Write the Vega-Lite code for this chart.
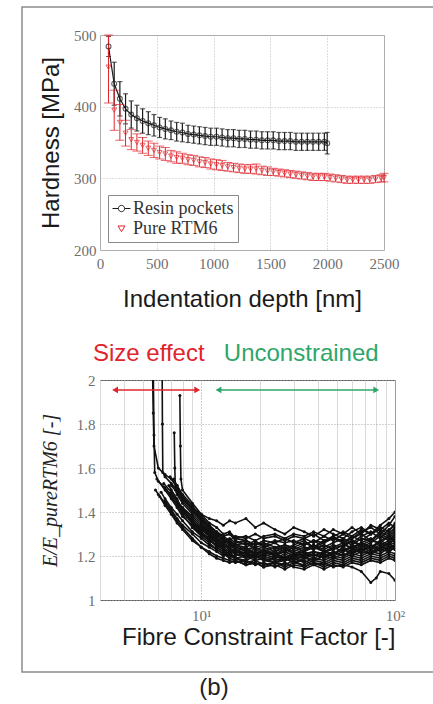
{
"$schema":"https://vega.github.io/schema/vega-lite/v6.json",
"padding":{"left":20,"top":5,"right":0,"bottom":5},
"background":"white",
"title":{"text":"(b)","orient":"bottom","anchor":"middle","font":"Liberation Sans","fontSize":24,"fontWeight":"normal","color":"#222","offset":3,"dx":-14},
"bounds":"flush",
"spacing":130,
"resolve":{"scale":{"color":"independent","shape":"independent"},"legend":{"color":"independent","shape":"independent"}},
"datasets":{
"hard":[
{"series":"Resin pockets","depth":75,"h":484,"lo":470,"hi":498},
{"series":"Resin pockets","depth":125,"h":432,"lo":402,"hi":462},
{"series":"Resin pockets","depth":175,"h":411,"lo":387,"hi":435},
{"series":"Resin pockets","depth":225,"h":397,"lo":376,"hi":418},
{"series":"Resin pockets","depth":275,"h":389,"lo":370,"hi":408},
{"series":"Resin pockets","depth":325,"h":384,"lo":366,"hi":402},
{"series":"Resin pockets","depth":375,"h":380,"lo":363,"hi":397},
{"series":"Resin pockets","depth":425,"h":377,"lo":361,"hi":393},
{"series":"Resin pockets","depth":475,"h":374,"lo":359,"hi":389},
{"series":"Resin pockets","depth":525,"h":371,"lo":357,"hi":385},
{"series":"Resin pockets","depth":575,"h":369,"lo":355,"hi":383},
{"series":"Resin pockets","depth":625,"h":367,"lo":354,"hi":380},
{"series":"Resin pockets","depth":675,"h":365,"lo":352,"hi":378},
{"series":"Resin pockets","depth":725,"h":364,"lo":351,"hi":377},
{"series":"Resin pockets","depth":775,"h":362,"lo":350,"hi":374},
{"series":"Resin pockets","depth":825,"h":361,"lo":349,"hi":373},
{"series":"Resin pockets","depth":875,"h":360,"lo":348,"hi":372},
{"series":"Resin pockets","depth":925,"h":359,"lo":347,"hi":371},
{"series":"Resin pockets","depth":975,"h":358,"lo":346,"hi":370},
{"series":"Resin pockets","depth":1025,"h":358,"lo":346,"hi":370},
{"series":"Resin pockets","depth":1075,"h":357,"lo":345,"hi":369},
{"series":"Resin pockets","depth":1125,"h":356,"lo":344,"hi":368},
{"series":"Resin pockets","depth":1175,"h":356,"lo":344,"hi":368},
{"series":"Resin pockets","depth":1225,"h":355,"lo":343,"hi":367},
{"series":"Resin pockets","depth":1275,"h":355,"lo":343,"hi":367},
{"series":"Resin pockets","depth":1325,"h":354,"lo":342,"hi":366},
{"series":"Resin pockets","depth":1375,"h":354,"lo":342,"hi":366},
{"series":"Resin pockets","depth":1425,"h":353,"lo":341,"hi":365},
{"series":"Resin pockets","depth":1475,"h":353,"lo":341,"hi":365},
{"series":"Resin pockets","depth":1525,"h":353,"lo":341,"hi":365},
{"series":"Resin pockets","depth":1575,"h":352,"lo":340,"hi":364},
{"series":"Resin pockets","depth":1625,"h":352,"lo":340,"hi":364},
{"series":"Resin pockets","depth":1675,"h":352,"lo":340,"hi":364},
{"series":"Resin pockets","depth":1725,"h":351,"lo":339,"hi":363},
{"series":"Resin pockets","depth":1775,"h":351,"lo":339,"hi":363},
{"series":"Resin pockets","depth":1825,"h":351,"lo":339,"hi":363},
{"series":"Resin pockets","depth":1875,"h":351,"lo":339,"hi":363},
{"series":"Resin pockets","depth":1925,"h":351,"lo":339,"hi":363},
{"series":"Resin pockets","depth":1975,"h":351,"lo":339,"hi":363},
{"series":"Resin pockets","depth":2000,"h":349,"lo":334,"hi":364},
{"series":"Pure RTM6","depth":75,"h":455,"lo":405,"hi":500},
{"series":"Pure RTM6","depth":125,"h":395,"lo":367,"hi":423},
{"series":"Pure RTM6","depth":175,"h":378,"lo":353,"hi":403},
{"series":"Pure RTM6","depth":225,"h":363,"lo":345,"hi":381},
{"series":"Pure RTM6","depth":275,"h":354,"lo":340,"hi":368},
{"series":"Pure RTM6","depth":325,"h":350,"lo":338,"hi":362},
{"series":"Pure RTM6","depth":375,"h":346,"lo":335,"hi":357},
{"series":"Pure RTM6","depth":425,"h":342,"lo":332,"hi":352},
{"series":"Pure RTM6","depth":475,"h":339,"lo":329,"hi":349},
{"series":"Pure RTM6","depth":525,"h":336,"lo":327,"hi":345},
{"series":"Pure RTM6","depth":575,"h":334,"lo":325,"hi":343},
{"series":"Pure RTM6","depth":625,"h":331,"lo":323,"hi":339},
{"series":"Pure RTM6","depth":675,"h":329,"lo":321,"hi":337},
{"series":"Pure RTM6","depth":725,"h":328,"lo":321,"hi":335},
{"series":"Pure RTM6","depth":775,"h":326,"lo":319,"hi":333},
{"series":"Pure RTM6","depth":825,"h":325,"lo":318,"hi":332},
{"series":"Pure RTM6","depth":875,"h":323,"lo":316,"hi":330},
{"series":"Pure RTM6","depth":925,"h":322,"lo":315,"hi":329},
{"series":"Pure RTM6","depth":975,"h":320,"lo":313,"hi":327},
{"series":"Pure RTM6","depth":1025,"h":319,"lo":312,"hi":326},
{"series":"Pure RTM6","depth":1075,"h":318,"lo":311,"hi":325},
{"series":"Pure RTM6","depth":1125,"h":316,"lo":310,"hi":322},
{"series":"Pure RTM6","depth":1175,"h":315,"lo":309,"hi":321},
{"series":"Pure RTM6","depth":1225,"h":314,"lo":308,"hi":320},
{"series":"Pure RTM6","depth":1275,"h":313,"lo":307,"hi":319},
{"series":"Pure RTM6","depth":1325,"h":313,"lo":307,"hi":319},
{"series":"Pure RTM6","depth":1375,"h":313,"lo":306,"hi":320},
{"series":"Pure RTM6","depth":1425,"h":311,"lo":305,"hi":317},
{"series":"Pure RTM6","depth":1475,"h":310,"lo":304,"hi":316},
{"series":"Pure RTM6","depth":1525,"h":309,"lo":304,"hi":314},
{"series":"Pure RTM6","depth":1575,"h":308,"lo":303,"hi":313},
{"series":"Pure RTM6","depth":1625,"h":307,"lo":302,"hi":312},
{"series":"Pure RTM6","depth":1675,"h":306,"lo":301,"hi":311},
{"series":"Pure RTM6","depth":1725,"h":305,"lo":300,"hi":310},
{"series":"Pure RTM6","depth":1775,"h":304,"lo":299,"hi":309},
{"series":"Pure RTM6","depth":1825,"h":303,"lo":298,"hi":308},
{"series":"Pure RTM6","depth":1875,"h":302,"lo":297,"hi":307},
{"series":"Pure RTM6","depth":1925,"h":302,"lo":297,"hi":307},
{"series":"Pure RTM6","depth":1975,"h":302,"lo":297,"hi":307},
{"series":"Pure RTM6","depth":2025,"h":301,"lo":296,"hi":306},
{"series":"Pure RTM6","depth":2075,"h":300,"lo":295,"hi":305},
{"series":"Pure RTM6","depth":2125,"h":299,"lo":294,"hi":304},
{"series":"Pure RTM6","depth":2175,"h":298,"lo":293,"hi":303},
{"series":"Pure RTM6","depth":2225,"h":298,"lo":293,"hi":303},
{"series":"Pure RTM6","depth":2275,"h":298,"lo":293,"hi":303},
{"series":"Pure RTM6","depth":2325,"h":298,"lo":293,"hi":303},
{"series":"Pure RTM6","depth":2375,"h":298,"lo":293,"hi":303},
{"series":"Pure RTM6","depth":2425,"h":299,"lo":294,"hi":304},
{"series":"Pure RTM6","depth":2475,"h":300,"lo":295,"hi":305},
{"series":"Pure RTM6","depth":2500,"h":301,"lo":295,"hi":307}
],
"fcf":[
{"s":1,"x":5.6,"y":2.05},{"s":1,"x":5.65,"y":1.85},{"s":1,"x":5.7,"y":1.7},{"s":1,"x":6,"y":1.6},{"s":1,"x":6.5,"y":1.57},{"s":1,"x":7,"y":1.55},{"s":1,"x":7.5,"y":1.52},{"s":1,"x":8,"y":1.46},{"s":1,"x":9,"y":1.41},{"s":1,"x":10,"y":1.37},{"s":1,"x":11,"y":1.33},{"s":1,"x":12,"y":1.31},{"s":1,"x":13,"y":1.29},{"s":1,"x":14,"y":1.3},{"s":1,"x":15,"y":1.27},{"s":1,"x":17,"y":1.25},{"s":1,"x":19,"y":1.27},{"s":1,"x":21,"y":1.24},{"s":1,"x":24,"y":1.26},{"s":1,"x":27,"y":1.23},{"s":1,"x":30,"y":1.25},{"s":1,"x":34,"y":1.27},{"s":1,"x":38,"y":1.24},{"s":1,"x":43,"y":1.26},{"s":1,"x":48,"y":1.29},{"s":1,"x":54,"y":1.26},{"s":1,"x":60,"y":1.28},{"s":1,"x":67,"y":1.3},{"s":1,"x":75,"y":1.27},{"s":1,"x":84,"y":1.31},{"s":1,"x":93,"y":1.29},{"s":1,"x":100,"y":1.32},
{"s":2,"x":5.8,"y":1.5},{"s":2,"x":6,"y":1.48},{"s":2,"x":6.5,"y":1.44},{"s":2,"x":7,"y":1.4},{"s":2,"x":7.5,"y":1.36},{"s":2,"x":8,"y":1.33},{"s":2,"x":9,"y":1.28},{"s":2,"x":10,"y":1.24},{"s":2,"x":11,"y":1.21},{"s":2,"x":12,"y":1.19},{"s":2,"x":13,"y":1.18},{"s":2,"x":14,"y":1.17},{"s":2,"x":15,"y":1.18},{"s":2,"x":17,"y":1.16},{"s":2,"x":19,"y":1.17},{"s":2,"x":21,"y":1.15},{"s":2,"x":24,"y":1.17},{"s":2,"x":27,"y":1.16},{"s":2,"x":30,"y":1.18},{"s":2,"x":34,"y":1.15},{"s":2,"x":38,"y":1.17},{"s":2,"x":43,"y":1.16},{"s":2,"x":48,"y":1.18},{"s":2,"x":54,"y":1.17},{"s":2,"x":60,"y":1.19},{"s":2,"x":67,"y":1.18},{"s":2,"x":75,"y":1.2},{"s":2,"x":84,"y":1.19},{"s":2,"x":93,"y":1.21},{"s":2,"x":100,"y":1.2},
{"s":3,"x":6.28,"y":2.05},{"s":3,"x":6.3,"y":1.8},{"s":3,"x":6.33,"y":1.58},{"s":3,"x":6.5,"y":1.56},{"s":3,"x":7,"y":1.53},{"s":3,"x":7.5,"y":1.5},{"s":3,"x":8,"y":1.47},{"s":3,"x":9,"y":1.42},{"s":3,"x":10,"y":1.38},{"s":3,"x":11,"y":1.34},{"s":3,"x":12,"y":1.31},{"s":3,"x":13,"y":1.28},{"s":3,"x":14,"y":1.27},{"s":3,"x":15,"y":1.25},{"s":3,"x":17,"y":1.26},{"s":3,"x":19,"y":1.23},{"s":3,"x":21,"y":1.24},{"s":3,"x":24,"y":1.22},{"s":3,"x":27,"y":1.24},{"s":3,"x":30,"y":1.21},{"s":3,"x":34,"y":1.23},{"s":3,"x":38,"y":1.25},{"s":3,"x":43,"y":1.22},{"s":3,"x":48,"y":1.24},{"s":3,"x":54,"y":1.26},{"s":3,"x":60,"y":1.23},{"s":3,"x":67,"y":1.26},{"s":3,"x":75,"y":1.28},{"s":3,"x":84,"y":1.25},{"s":3,"x":93,"y":1.27},{"s":3,"x":100,"y":1.29},
{"s":4,"x":7.25,"y":1.76},{"s":4,"x":7.3,"y":1.6},{"s":4,"x":7.35,"y":1.5},{"s":4,"x":7.5,"y":1.49},{"s":4,"x":8,"y":1.45},{"s":4,"x":9,"y":1.4},{"s":4,"x":10,"y":1.36},{"s":4,"x":11,"y":1.32},{"s":4,"x":12,"y":1.3},{"s":4,"x":13,"y":1.27},{"s":4,"x":14,"y":1.26},{"s":4,"x":15,"y":1.24},{"s":4,"x":17,"y":1.23},{"s":4,"x":19,"y":1.21},{"s":4,"x":21,"y":1.22},{"s":4,"x":24,"y":1.2},{"s":4,"x":27,"y":1.19},{"s":4,"x":30,"y":1.21},{"s":4,"x":34,"y":1.2},{"s":4,"x":38,"y":1.22},{"s":4,"x":43,"y":1.2},{"s":4,"x":48,"y":1.21},{"s":4,"x":54,"y":1.23},{"s":4,"x":60,"y":1.21},{"s":4,"x":67,"y":1.24},{"s":4,"x":75,"y":1.22},{"s":4,"x":84,"y":1.24},{"s":4,"x":93,"y":1.23},{"s":4,"x":100,"y":1.25},
{"s":5,"x":7.75,"y":1.93},{"s":5,"x":7.8,"y":1.7},{"s":5,"x":7.85,"y":1.55},{"s":5,"x":8,"y":1.5},{"s":5,"x":9,"y":1.44},{"s":5,"x":10,"y":1.39},{"s":5,"x":11,"y":1.35},{"s":5,"x":12,"y":1.33},{"s":5,"x":13,"y":1.3},{"s":5,"x":14,"y":1.31},{"s":5,"x":15,"y":1.28},{"s":5,"x":17,"y":1.27},{"s":5,"x":19,"y":1.25},{"s":5,"x":21,"y":1.26},{"s":5,"x":24,"y":1.24},{"s":5,"x":27,"y":1.25},{"s":5,"x":30,"y":1.23},{"s":5,"x":34,"y":1.25},{"s":5,"x":38,"y":1.27},{"s":5,"x":43,"y":1.24},{"s":5,"x":48,"y":1.26},{"s":5,"x":54,"y":1.28},{"s":5,"x":60,"y":1.26},{"s":5,"x":67,"y":1.29},{"s":5,"x":75,"y":1.31},{"s":5,"x":84,"y":1.28},{"s":5,"x":93,"y":1.32},{"s":5,"x":100,"y":1.34},
{"s":6,"x":5.9,"y":1.55},{"s":6,"x":6.5,"y":1.5},{"s":6,"x":7,"y":1.46},{"s":6,"x":7.5,"y":1.42},{"s":6,"x":8,"y":1.38},{"s":6,"x":9,"y":1.34},{"s":6,"x":10,"y":1.3},{"s":6,"x":11,"y":1.27},{"s":6,"x":12,"y":1.25},{"s":6,"x":13,"y":1.23},{"s":6,"x":14,"y":1.22},{"s":6,"x":15,"y":1.21},{"s":6,"x":17,"y":1.2},{"s":6,"x":19,"y":1.19},{"s":6,"x":21,"y":1.2},{"s":6,"x":24,"y":1.18},{"s":6,"x":27,"y":1.19},{"s":6,"x":30,"y":1.17},{"s":6,"x":34,"y":1.19},{"s":6,"x":38,"y":1.18},{"s":6,"x":43,"y":1.2},{"s":6,"x":48,"y":1.19},{"s":6,"x":54,"y":1.21},{"s":6,"x":60,"y":1.2},{"s":6,"x":67,"y":1.22},{"s":6,"x":75,"y":1.21},{"s":6,"x":84,"y":1.23},{"s":6,"x":93,"y":1.22},{"s":6,"x":100,"y":1.24},
{"s":7,"x":7,"y":1.52},{"s":7,"x":7.5,"y":1.49},{"s":7,"x":8,"y":1.46},{"s":7,"x":9,"y":1.42},{"s":7,"x":10,"y":1.39},{"s":7,"x":11,"y":1.37},{"s":7,"x":12,"y":1.36},{"s":7,"x":13,"y":1.34},{"s":7,"x":14,"y":1.36},{"s":7,"x":15,"y":1.35},{"s":7,"x":17,"y":1.37},{"s":7,"x":19,"y":1.33},{"s":7,"x":21,"y":1.35},{"s":7,"x":24,"y":1.32},{"s":7,"x":27,"y":1.3},{"s":7,"x":30,"y":1.33},{"s":7,"x":34,"y":1.31},{"s":7,"x":38,"y":1.29},{"s":7,"x":43,"y":1.32},{"s":7,"x":48,"y":1.3},{"s":7,"x":54,"y":1.28},{"s":7,"x":60,"y":1.31},{"s":7,"x":67,"y":1.33},{"s":7,"x":75,"y":1.3},{"s":7,"x":84,"y":1.34},{"s":7,"x":93,"y":1.37},{"s":7,"x":100,"y":1.4},
{"s":8,"x":6.5,"y":1.45},{"s":8,"x":7,"y":1.41},{"s":8,"x":7.5,"y":1.37},{"s":8,"x":8,"y":1.34},{"s":8,"x":9,"y":1.3},{"s":8,"x":10,"y":1.26},{"s":8,"x":11,"y":1.24},{"s":8,"x":12,"y":1.22},{"s":8,"x":13,"y":1.2},{"s":8,"x":14,"y":1.21},{"s":8,"x":15,"y":1.19},{"s":8,"x":17,"y":1.18},{"s":8,"x":19,"y":1.2},{"s":8,"x":21,"y":1.18},{"s":8,"x":24,"y":1.17},{"s":8,"x":27,"y":1.19},{"s":8,"x":30,"y":1.17},{"s":8,"x":34,"y":1.18},{"s":8,"x":38,"y":1.16},{"s":8,"x":43,"y":1.17},{"s":8,"x":48,"y":1.15},{"s":8,"x":54,"y":1.16},{"s":8,"x":60,"y":1.15},{"s":8,"x":67,"y":1.13},{"s":8,"x":75,"y":1.08},{"s":8,"x":80,"y":1.1},{"s":8,"x":84,"y":1.13},{"s":8,"x":93,"y":1.12},{"s":8,"x":100,"y":1.09},
{"s":9,"x":8,"y":1.42},{"s":9,"x":9,"y":1.37},{"s":9,"x":10,"y":1.33},{"s":9,"x":11,"y":1.29},{"s":9,"x":12,"y":1.27},{"s":9,"x":13,"y":1.26},{"s":9,"x":14,"y":1.24},{"s":9,"x":15,"y":1.25},{"s":9,"x":17,"y":1.23},{"s":9,"x":19,"y":1.24},{"s":9,"x":21,"y":1.22},{"s":9,"x":24,"y":1.24},{"s":9,"x":27,"y":1.22},{"s":9,"x":30,"y":1.24},{"s":9,"x":34,"y":1.22},{"s":9,"x":38,"y":1.25},{"s":9,"x":43,"y":1.23},{"s":9,"x":48,"y":1.25},{"s":9,"x":54,"y":1.24},{"s":9,"x":60,"y":1.27},{"s":9,"x":67,"y":1.25},{"s":9,"x":75,"y":1.27},{"s":9,"x":84,"y":1.26},{"s":9,"x":93,"y":1.29},{"s":9,"x":100,"y":1.27},
{"s":10,"x":6.8,"y":1.52},{"s":10,"x":7,"y":1.5},{"s":10,"x":7.5,"y":1.46},{"s":10,"x":8,"y":1.41},{"s":10,"x":9,"y":1.36},{"s":10,"x":10,"y":1.31},{"s":10,"x":11,"y":1.28},{"s":10,"x":12,"y":1.24},{"s":10,"x":13,"y":1.22},{"s":10,"x":14,"y":1.2},{"s":10,"x":15,"y":1.19},{"s":10,"x":17,"y":1.17},{"s":10,"x":19,"y":1.18},{"s":10,"x":21,"y":1.16},{"s":10,"x":24,"y":1.17},{"s":10,"x":27,"y":1.15},{"s":10,"x":30,"y":1.17},{"s":10,"x":34,"y":1.16},{"s":10,"x":38,"y":1.18},{"s":10,"x":43,"y":1.17},{"s":10,"x":48,"y":1.19},{"s":10,"x":54,"y":1.18},{"s":10,"x":60,"y":1.2},{"s":10,"x":67,"y":1.19},{"s":10,"x":75,"y":1.21},{"s":10,"x":84,"y":1.2},{"s":10,"x":93,"y":1.22},{"s":10,"x":100,"y":1.21},
{"s":11,"x":5.65,"y":2.05},{"s":11,"x":5.7,"y":1.75},{"s":11,"x":5.75,"y":1.58},{"s":11,"x":6,"y":1.54},{"s":11,"x":6.5,"y":1.51},{"s":11,"x":7,"y":1.47},{"s":11,"x":7.5,"y":1.44},{"s":11,"x":8,"y":1.4},{"s":11,"x":9,"y":1.35},{"s":11,"x":10,"y":1.32},{"s":11,"x":11,"y":1.29},{"s":11,"x":12,"y":1.26},{"s":11,"x":13,"y":1.25},{"s":11,"x":14,"y":1.23},{"s":11,"x":15,"y":1.22},{"s":11,"x":17,"y":1.24},{"s":11,"x":19,"y":1.21},{"s":11,"x":21,"y":1.23},{"s":11,"x":24,"y":1.2},{"s":11,"x":27,"y":1.22},{"s":11,"x":30,"y":1.2},{"s":11,"x":34,"y":1.21},{"s":11,"x":38,"y":1.19},{"s":11,"x":43,"y":1.21},{"s":11,"x":48,"y":1.2},{"s":11,"x":54,"y":1.22},{"s":11,"x":60,"y":1.24},{"s":11,"x":67,"y":1.21},{"s":11,"x":75,"y":1.23},{"s":11,"x":84,"y":1.25},{"s":11,"x":93,"y":1.22},{"s":11,"x":100,"y":1.24},
{"s":12,"x":9,"y":1.33},{"s":12,"x":10,"y":1.3},{"s":12,"x":11,"y":1.28},{"s":12,"x":12,"y":1.26},{"s":12,"x":13,"y":1.24},{"s":12,"x":14,"y":1.25},{"s":12,"x":15,"y":1.23},{"s":12,"x":17,"y":1.21},{"s":12,"x":19,"y":1.22},{"s":12,"x":21,"y":1.2},{"s":12,"x":24,"y":1.21},{"s":12,"x":27,"y":1.19},{"s":12,"x":30,"y":1.2},{"s":12,"x":34,"y":1.22},{"s":12,"x":38,"y":1.2},{"s":12,"x":43,"y":1.22},{"s":12,"x":48,"y":1.21},{"s":12,"x":54,"y":1.24},{"s":12,"x":60,"y":1.22},{"s":12,"x":67,"y":1.25},{"s":12,"x":75,"y":1.23},{"s":12,"x":84,"y":1.27},{"s":12,"x":93,"y":1.25},{"s":12,"x":100,"y":1.28},
{"s":13,"x":7.5,"y":1.48},{"s":13,"x":8,"y":1.44},{"s":13,"x":9,"y":1.39},{"s":13,"x":10,"y":1.35},{"s":13,"x":11,"y":1.31},{"s":13,"x":12,"y":1.29},{"s":13,"x":13,"y":1.27},{"s":13,"x":14,"y":1.28},{"s":13,"x":15,"y":1.26},{"s":13,"x":17,"y":1.27},{"s":13,"x":19,"y":1.25},{"s":13,"x":21,"y":1.27},{"s":13,"x":24,"y":1.26},{"s":13,"x":27,"y":1.28},{"s":13,"x":30,"y":1.26},{"s":13,"x":34,"y":1.28},{"s":13,"x":38,"y":1.3},{"s":13,"x":43,"y":1.27},{"s":13,"x":48,"y":1.29},{"s":13,"x":54,"y":1.31},{"s":13,"x":60,"y":1.29},{"s":13,"x":67,"y":1.32},{"s":13,"x":75,"y":1.3},{"s":13,"x":84,"y":1.33},{"s":13,"x":93,"y":1.31},{"s":13,"x":100,"y":1.35},
{"s":14,"x":6.2,"y":1.49},{"s":14,"x":6.5,"y":1.46},{"s":14,"x":7,"y":1.42},{"s":14,"x":7.5,"y":1.39},{"s":14,"x":8,"y":1.36},{"s":14,"x":9,"y":1.31},{"s":14,"x":10,"y":1.28},{"s":14,"x":11,"y":1.25},{"s":14,"x":12,"y":1.23},{"s":14,"x":13,"y":1.21},{"s":14,"x":14,"y":1.2},{"s":14,"x":15,"y":1.19},{"s":14,"x":17,"y":1.2},{"s":14,"x":19,"y":1.18},{"s":14,"x":21,"y":1.19},{"s":14,"x":24,"y":1.17},{"s":14,"x":27,"y":1.18},{"s":14,"x":30,"y":1.19},{"s":14,"x":34,"y":1.17},{"s":14,"x":38,"y":1.19},{"s":14,"x":43,"y":1.18},{"s":14,"x":48,"y":1.2},{"s":14,"x":54,"y":1.19},{"s":14,"x":60,"y":1.21},{"s":14,"x":67,"y":1.2},{"s":14,"x":75,"y":1.22},{"s":14,"x":84,"y":1.21},{"s":14,"x":93,"y":1.24},{"s":14,"x":100,"y":1.23},
{"s":15,"x":10,"y":1.34},{"s":15,"x":11,"y":1.31},{"s":15,"x":12,"y":1.28},{"s":15,"x":13,"y":1.27},{"s":15,"x":14,"y":1.25},{"s":15,"x":15,"y":1.24},{"s":15,"x":17,"y":1.22},{"s":15,"x":19,"y":1.23},{"s":15,"x":21,"y":1.21},{"s":15,"x":24,"y":1.22},{"s":15,"x":27,"y":1.24},{"s":15,"x":30,"y":1.22},{"s":15,"x":34,"y":1.24},{"s":15,"x":38,"y":1.23},{"s":15,"x":43,"y":1.25},{"s":15,"x":48,"y":1.23},{"s":15,"x":54,"y":1.25},{"s":15,"x":60,"y":1.27},{"s":15,"x":67,"y":1.24},{"s":15,"x":75,"y":1.26},{"s":15,"x":84,"y":1.29},{"s":15,"x":93,"y":1.27},{"s":15,"x":100,"y":1.3},
{"s":16,"x":7,"y":1.47},{"s":16,"x":7.5,"y":1.43},{"s":16,"x":8,"y":1.39},{"s":16,"x":9,"y":1.33},{"s":16,"x":10,"y":1.29},{"s":16,"x":11,"y":1.26},{"s":16,"x":12,"y":1.23},{"s":16,"x":13,"y":1.21},{"s":16,"x":14,"y":1.19},{"s":16,"x":15,"y":1.18},{"s":16,"x":17,"y":1.16},{"s":16,"x":19,"y":1.17},{"s":16,"x":21,"y":1.15},{"s":16,"x":24,"y":1.16},{"s":16,"x":27,"y":1.14},{"s":16,"x":30,"y":1.16},{"s":16,"x":34,"y":1.15},{"s":16,"x":38,"y":1.17},{"s":16,"x":43,"y":1.15},{"s":16,"x":48,"y":1.17},{"s":16,"x":54,"y":1.16},{"s":16,"x":60,"y":1.18},{"s":16,"x":67,"y":1.17},{"s":16,"x":75,"y":1.19},{"s":16,"x":84,"y":1.18},{"s":16,"x":93,"y":1.2},{"s":16,"x":100,"y":1.19},
{"s":17,"x":8.5,"y":1.38},{"s":17,"x":9,"y":1.36},{"s":17,"x":10,"y":1.32},{"s":17,"x":11,"y":1.3},{"s":17,"x":12,"y":1.27},{"s":17,"x":13,"y":1.26},{"s":17,"x":14,"y":1.27},{"s":17,"x":15,"y":1.25},{"s":17,"x":17,"y":1.26},{"s":17,"x":19,"y":1.24},{"s":17,"x":21,"y":1.25},{"s":17,"x":24,"y":1.23},{"s":17,"x":27,"y":1.25},{"s":17,"x":30,"y":1.24},{"s":17,"x":34,"y":1.26},{"s":17,"x":38,"y":1.24},{"s":17,"x":43,"y":1.27},{"s":17,"x":48,"y":1.28},{"s":17,"x":54,"y":1.26},{"s":17,"x":60,"y":1.29},{"s":17,"x":67,"y":1.27},{"s":17,"x":75,"y":1.3},{"s":17,"x":84,"y":1.32},{"s":17,"x":93,"y":1.3},{"s":17,"x":100,"y":1.33},
{"s":18,"x":6.6,"y":1.5},{"s":18,"x":7,"y":1.48},{"s":18,"x":7.5,"y":1.45},{"s":18,"x":8,"y":1.42},{"s":18,"x":9,"y":1.38},{"s":18,"x":10,"y":1.34},{"s":18,"x":11,"y":1.3},{"s":18,"x":12,"y":1.28},{"s":18,"x":13,"y":1.26},{"s":18,"x":14,"y":1.24},{"s":18,"x":15,"y":1.22},{"s":18,"x":17,"y":1.21},{"s":18,"x":19,"y":1.19},{"s":18,"x":21,"y":1.21},{"s":18,"x":24,"y":1.19},{"s":18,"x":27,"y":1.2},{"s":18,"x":30,"y":1.18},{"s":18,"x":34,"y":1.2},{"s":18,"x":38,"y":1.21},{"s":18,"x":43,"y":1.19},{"s":18,"x":48,"y":1.22},{"s":18,"x":54,"y":1.2},{"s":18,"x":60,"y":1.23},{"s":18,"x":67,"y":1.22},{"s":18,"x":75,"y":1.25},{"s":18,"x":84,"y":1.23},{"s":18,"x":93,"y":1.26},{"s":18,"x":100,"y":1.28},
{"s":19,"x":6.4,"y":1.53},{"s":19,"x":7,"y":1.49},{"s":19,"x":7.5,"y":1.45},{"s":19,"x":8,"y":1.4},{"s":19,"x":9,"y":1.35},{"s":19,"x":10,"y":1.3},{"s":19,"x":11,"y":1.27},{"s":19,"x":12,"y":1.25},{"s":19,"x":13,"y":1.24},{"s":19,"x":14,"y":1.22},{"s":19,"x":15,"y":1.23},{"s":19,"x":17,"y":1.21},{"s":19,"x":19,"y":1.2},{"s":19,"x":21,"y":1.22},{"s":19,"x":24,"y":1.21},{"s":19,"x":27,"y":1.23},{"s":19,"x":30,"y":1.21},{"s":19,"x":34,"y":1.22},{"s":19,"x":38,"y":1.24},{"s":19,"x":43,"y":1.22},{"s":19,"x":48,"y":1.23},{"s":19,"x":54,"y":1.25},{"s":19,"x":60,"y":1.24},{"s":19,"x":67,"y":1.26},{"s":19,"x":75,"y":1.24},{"s":19,"x":84,"y":1.27},{"s":19,"x":93,"y":1.29},{"s":19,"x":100,"y":1.26},
{"s":20,"x":9.5,"y":1.34},{"s":20,"x":10,"y":1.33},{"s":20,"x":11,"y":1.3},{"s":20,"x":12,"y":1.27},{"s":20,"x":13,"y":1.25},{"s":20,"x":14,"y":1.23},{"s":20,"x":15,"y":1.21},{"s":20,"x":17,"y":1.19},{"s":20,"x":19,"y":1.2},{"s":20,"x":21,"y":1.18},{"s":20,"x":24,"y":1.19},{"s":20,"x":27,"y":1.21},{"s":20,"x":30,"y":1.19},{"s":20,"x":34,"y":1.2},{"s":20,"x":38,"y":1.18},{"s":20,"x":43,"y":1.2},{"s":20,"x":48,"y":1.22},{"s":20,"x":54,"y":1.2},{"s":20,"x":60,"y":1.22},{"s":20,"x":67,"y":1.23},{"s":20,"x":75,"y":1.21},{"s":20,"x":84,"y":1.24},{"s":20,"x":93,"y":1.26},{"s":20,"x":100,"y":1.23},
{"s":21,"x":7.2,"y":1.55},{"s":21,"x":7.5,"y":1.52},{"s":21,"x":8,"y":1.48},{"s":21,"x":9,"y":1.43},{"s":21,"x":10,"y":1.37},{"s":21,"x":11,"y":1.33},{"s":21,"x":12,"y":1.3},{"s":21,"x":13,"y":1.29},{"s":21,"x":14,"y":1.27},{"s":21,"x":15,"y":1.29},{"s":21,"x":17,"y":1.28},{"s":21,"x":19,"y":1.3},{"s":21,"x":21,"y":1.28},{"s":21,"x":24,"y":1.29},{"s":21,"x":27,"y":1.27},{"s":21,"x":30,"y":1.29},{"s":21,"x":34,"y":1.28},{"s":21,"x":38,"y":1.26},{"s":21,"x":43,"y":1.29},{"s":21,"x":48,"y":1.27},{"s":21,"x":54,"y":1.3},{"s":21,"x":60,"y":1.28},{"s":21,"x":67,"y":1.31},{"s":21,"x":75,"y":1.33},{"s":21,"x":84,"y":1.3},{"s":21,"x":93,"y":1.34},{"s":21,"x":100,"y":1.38},
{"s":22,"x":6.1,"y":1.47},{"s":22,"x":6.5,"y":1.43},{"s":22,"x":7,"y":1.39},{"s":22,"x":7.5,"y":1.35},{"s":22,"x":8,"y":1.32},{"s":22,"x":9,"y":1.27},{"s":22,"x":10,"y":1.24},{"s":22,"x":11,"y":1.22},{"s":22,"x":12,"y":1.2},{"s":22,"x":13,"y":1.19},{"s":22,"x":14,"y":1.18},{"s":22,"x":15,"y":1.17},{"s":22,"x":17,"y":1.18},{"s":22,"x":19,"y":1.16},{"s":22,"x":21,"y":1.17},{"s":22,"x":24,"y":1.15},{"s":22,"x":27,"y":1.17},{"s":22,"x":30,"y":1.15},{"s":22,"x":34,"y":1.14},{"s":22,"x":38,"y":1.16},{"s":22,"x":43,"y":1.14},{"s":22,"x":48,"y":1.16},{"s":22,"x":54,"y":1.15},{"s":22,"x":60,"y":1.17},{"s":22,"x":67,"y":1.16},{"s":22,"x":75,"y":1.18},{"s":22,"x":84,"y":1.17},{"s":22,"x":93,"y":1.19},{"s":22,"x":100,"y":1.18},
{"s":23,"x":11,"y":1.32},{"s":23,"x":12,"y":1.3},{"s":23,"x":13,"y":1.29},{"s":23,"x":14,"y":1.3},{"s":23,"x":15,"y":1.28},{"s":23,"x":17,"y":1.29},{"s":23,"x":19,"y":1.27},{"s":23,"x":21,"y":1.29},{"s":23,"x":24,"y":1.3},{"s":23,"x":27,"y":1.28},{"s":23,"x":30,"y":1.3},{"s":23,"x":34,"y":1.29},{"s":23,"x":38,"y":1.31},{"s":23,"x":43,"y":1.29},{"s":23,"x":48,"y":1.32},{"s":23,"x":54,"y":1.3},{"s":23,"x":60,"y":1.33},{"s":23,"x":67,"y":1.3},{"s":23,"x":75,"y":1.34},{"s":23,"x":84,"y":1.32},{"s":23,"x":93,"y":1.35},{"s":23,"x":100,"y":1.33},
{"s":24,"x":8.2,"y":1.4},{"s":24,"x":9,"y":1.35},{"s":24,"x":10,"y":1.31},{"s":24,"x":11,"y":1.27},{"s":24,"x":12,"y":1.25},{"s":24,"x":13,"y":1.23},{"s":24,"x":14,"y":1.21},{"s":24,"x":15,"y":1.22},{"s":24,"x":17,"y":1.2},{"s":24,"x":19,"y":1.21},{"s":24,"x":21,"y":1.19},{"s":24,"x":24,"y":1.2},{"s":24,"x":27,"y":1.18},{"s":24,"x":30,"y":1.2},{"s":24,"x":34,"y":1.19},{"s":24,"x":38,"y":1.21},{"s":24,"x":43,"y":1.19},{"s":24,"x":48,"y":1.21},{"s":24,"x":54,"y":1.23},{"s":24,"x":60,"y":1.21},{"s":24,"x":67,"y":1.23},{"s":24,"x":75,"y":1.25},{"s":24,"x":84,"y":1.22},{"s":24,"x":93,"y":1.25},{"s":24,"x":100,"y":1.26},
{"s":25,"x":6.9,"y":1.56},{"s":25,"x":7.5,"y":1.51},{"s":25,"x":8,"y":1.47},{"s":25,"x":9,"y":1.41},{"s":25,"x":10,"y":1.36},{"s":25,"x":11,"y":1.32},{"s":25,"x":12,"y":1.29},{"s":25,"x":13,"y":1.28},{"s":25,"x":14,"y":1.26},{"s":25,"x":15,"y":1.25},{"s":25,"x":17,"y":1.24},{"s":25,"x":19,"y":1.26},{"s":25,"x":21,"y":1.25},{"s":25,"x":24,"y":1.27},{"s":25,"x":27,"y":1.26},{"s":25,"x":30,"y":1.27},{"s":25,"x":34,"y":1.25},{"s":25,"x":38,"y":1.27},{"s":25,"x":43,"y":1.26},{"s":25,"x":48,"y":1.28},{"s":25,"x":54,"y":1.27},{"s":25,"x":60,"y":1.25},{"s":25,"x":67,"y":1.28},{"s":25,"x":75,"y":1.27},{"s":25,"x":84,"y":1.3},{"s":25,"x":93,"y":1.28},{"s":25,"x":100,"y":1.31},
{"s":26,"x":12,"y":1.24},{"s":26,"x":13,"y":1.22},{"s":26,"x":14,"y":1.21},{"s":26,"x":15,"y":1.2},{"s":26,"x":17,"y":1.22},{"s":26,"x":19,"y":1.21},{"s":26,"x":21,"y":1.23},{"s":26,"x":24,"y":1.21},{"s":26,"x":27,"y":1.22},{"s":26,"x":30,"y":1.2},{"s":26,"x":34,"y":1.21},{"s":26,"x":38,"y":1.22},{"s":26,"x":43,"y":1.21},{"s":26,"x":48,"y":1.24},{"s":26,"x":54,"y":1.22},{"s":26,"x":60,"y":1.25},{"s":26,"x":67,"y":1.23},{"s":26,"x":75,"y":1.24},{"s":26,"x":84,"y":1.26},{"s":26,"x":93,"y":1.24},{"s":26,"x":100,"y":1.25}
],
"zones":[
{"zone":"Size effect","from":3.59,"to":9.53,"mid":5.36},
{"zone":"Unconstrained","from":12.27,"to":80,"mid":32.8}
]
},
"vconcat":[
{
"width":284,"height":215,
"view":{"stroke":"#a6a6a6","strokeWidth":1},
"data":{"name":"hard"},
"encoding":{
"x":{"field":"depth","type":"quantitative","scale":{"domain":[0,2500],"nice":false},
"axis":{"values":[0,500,1000,1500,2000,2500],"format":"d","labelFlush":false,"labelBound":false,"labelOverlap":false,"title":"Indentation depth [nm]","grid":true,"gridDash":[1,2],"gridColor":"#bdbdbd","labelFont":"Liberation Serif","labelFontSize":15,"labelColor":"#6e6e6e","labelPadding":6,"titleFont":"Liberation Sans","titleFontSize":24,"titleFontWeight":"normal","titleColor":"#1a1a1a","titlePadding":16}},
"y":{"field":"h","type":"quantitative","scale":{"domain":[200,500],"nice":false},
"axis":{"values":[200,300,400,500],"labelFlush":false,"title":"Hardness [MPa]","grid":true,"gridDash":[1,2],"gridColor":"#bdbdbd","labelFont":"Liberation Serif","labelFontSize":15,"labelColor":"#6e6e6e","labelPadding":4,"titleFont":"Liberation Sans","titleFontSize":24,"titleFontWeight":"normal","titleColor":"#1a1a1a","titlePadding":10}}
},
"layer":[
{"transform":[{"filter":"datum.series==='Resin pockets'"}],"mark":{"type":"line","color":"#1a1a1a","strokeWidth":1.2}},
{"transform":[{"filter":"datum.series==='Resin pockets'"}],"mark":{"type":"errorbar","color":"#1a1a1a","thickness":1.2,"ticks":{"size":5,"thickness":1.2}},
"encoding":{"y":{"field":"lo","type":"quantitative"},"y2":{"field":"hi"}}},
{"transform":[{"filter":"datum.series==='Pure RTM6'"}],"mark":{"type":"errorbar","color":"#e0242c","thickness":1,"ticks":{"size":9,"thickness":1}},
"encoding":{"y":{"field":"lo","type":"quantitative"},"y2":{"field":"hi"}}},
{"mark":{"type":"point","filled":false,"opacity":0,"size":100},
"encoding":{
"shape":{"field":"series","type":"nominal","scale":{"domain":["Resin pockets","Pure RTM6"],"range":["M-1,0L-0.35,0M0.35,0L1,0M0.35,0A0.35,0.35,0,1,1,-0.35,0A0.35,0.35,0,1,1,0.35,0","M-0.38,-0.28L0.38,-0.28L0,0.36Z"]},
"legend":{"title":null,"orient":"bottom-left","offset":8,"symbolSize":324,"symbolStrokeWidth":1,"symbolOpacity":1,"symbolFillColor":"transparent","labelFont":"Liberation Serif","labelFontSize":18,"labelColor":"#333","strokeColor":"#8a8a8a","fillColor":"white","padding":4,"rowPadding":1,"labelOffset":2}},
"color":{"field":"series","type":"nominal","scale":{"domain":["Resin pockets","Pure RTM6"],"range":["#1a1a1a","#e0242c"]},
"legend":{"title":null,"orient":"bottom-left","offset":8,"symbolSize":324,"symbolStrokeWidth":1,"symbolOpacity":1,"symbolFillColor":"transparent","labelFont":"Liberation Serif","labelFontSize":18,"labelColor":"#333","strokeColor":"#8a8a8a","fillColor":"white","padding":4,"rowPadding":1,"labelOffset":2}}
}},
{"transform":[{"filter":"datum.series==='Resin pockets'"}],"mark":{"type":"point","shape":"circle","filled":false,"size":24,"strokeWidth":1.1,"color":"#1a1a1a"}},
{"transform":[{"filter":"datum.series==='Pure RTM6'"}],"mark":{"type":"point","shape":"triangle-down","filled":false,"size":24,"strokeWidth":1,"color":"#e0242c"}}
]
},
{
"width":295,"height":220,
"view":{"stroke":"#555","strokeWidth":1},
"layer":[
{"data":{"values":[{}]},"mark":{"type":"rect","filled":false,"stroke":"#8c8c8c","strokeWidth":1.5,"clip":false},
"encoding":{"x":{"datum":1.187,"type":"quantitative","scale":{"type":"log","domain":[3,100],"nice":false}},"x2":{"datum":159},"y":{"datum":3.695,"type":"quantitative","scale":{"domain":[1,2],"nice":false,"zero":false}},"y2":{"datum":0.673}}},
{"data":{"name":"fcf"},"mark":{"type":"line","color":"#111","strokeWidth":1.6,"clip":true},
"encoding":{
"x":{"field":"x","type":"quantitative","scale":{"type":"log","domain":[3,100],"nice":false},
"axis":{"values":[3,4,5,6,7,8,9,10,20,30,40,50,60,70,80,90,100],"labelExpr":"datum.value==10?'10¹':datum.value==100?'10²':''","labelOverlap":false,"labelBound":false,"labelFlush":false,"grid":true,"gridColor":{"condition":{"test":"datum.value==10||datum.value==100","value":"#9a9a9a"},"value":"#dadada"},"gridDash":{"condition":{"test":"datum.value==10","value":[1,2]},"value":[]},"title":"Fibre Constraint Factor [-]","titleAnchor":"end","titleFont":"Liberation Sans","titleFontSize":24,"titleFontWeight":"normal","titleColor":"#1a1a1a","titlePadding":2,"labelFont":"Liberation Serif","labelFontSize":15,"labelColor":"#6e6e6e","labelPadding":8}},
"y":{"field":"y","type":"quantitative","scale":{"domain":[1,2],"nice":false,"zero":false},
"axis":{"values":[1,1.2,1.4,1.6,1.8,2],"format":"~g","grid":true,"gridDash":[1,2],"gridColor":"#a8a8a8","title":"E/E_pureRTM6 [-]","titleFont":"Liberation Serif","titleFontStyle":"italic","titleFontSize":20,"titleFontWeight":"normal","titleColor":"#222","titlePadding":16,"labelFont":"Liberation Serif","labelFontSize":15,"labelColor":"#6e6e6e","labelPadding":5}},
"detail":{"field":"s","type":"nominal"}}},
{"data":{"name":"fcf"},"mark":{"type":"point","filled":true,"size":9,"color":"#111","opacity":1,"clip":true},
"encoding":{"x":{"field":"x","type":"quantitative","scale":{"type":"log","domain":[3,100],"nice":false}},"y":{"field":"y","type":"quantitative","scale":{"domain":[1,2],"nice":false,"zero":false}}}},
{"data":{"name":"zones"},"mark":{"type":"rule","strokeWidth":1.5,"clip":false},
"encoding":{"x":{"field":"from","type":"quantitative","scale":{"type":"log","domain":[3,100],"nice":false}},"x2":{"field":"to"},"y":{"datum":1.955,"type":"quantitative","scale":{"domain":[1,2],"nice":false,"zero":false}},
"color":{"field":"zone","type":"nominal","scale":{"domain":["Size effect","Unconstrained"],"range":["#e0242c","#2ea66a"]},"legend":null}}},
{"data":{"name":"zones"},"mark":{"type":"point","shape":"triangle-left","filled":true,"size":45,"opacity":1,"clip":false},
"encoding":{"x":{"field":"from","type":"quantitative","scale":{"type":"log","domain":[3,100],"nice":false}},"y":{"datum":1.955,"type":"quantitative","scale":{"domain":[1,2],"nice":false,"zero":false}},"color":{"field":"zone","type":"nominal","legend":null}}},
{"data":{"name":"zones"},"mark":{"type":"point","shape":"triangle-right","filled":true,"size":45,"opacity":1,"clip":false},
"encoding":{"x":{"field":"to","type":"quantitative","scale":{"type":"log","domain":[3,100],"nice":false}},"y":{"datum":1.955,"type":"quantitative","scale":{"domain":[1,2],"nice":false,"zero":false}},"color":{"field":"zone","type":"nominal","legend":null}}},
{"data":{"name":"zones"},"mark":{"type":"text","font":"Liberation Sans","fontSize":24,"baseline":"middle","align":"center"},
"encoding":{"x":{"field":"mid","type":"quantitative","scale":{"type":"log","domain":[3,100],"nice":false}},"y":{"datum":2.118,"type":"quantitative","scale":{"domain":[1,2],"nice":false,"zero":false}},"text":{"field":"zone"},"color":{"field":"zone","type":"nominal","legend":null}}}
]
}
],
"config":{"axis":{"domain":false,"ticks":false},"font":"Liberation Sans"}
}
